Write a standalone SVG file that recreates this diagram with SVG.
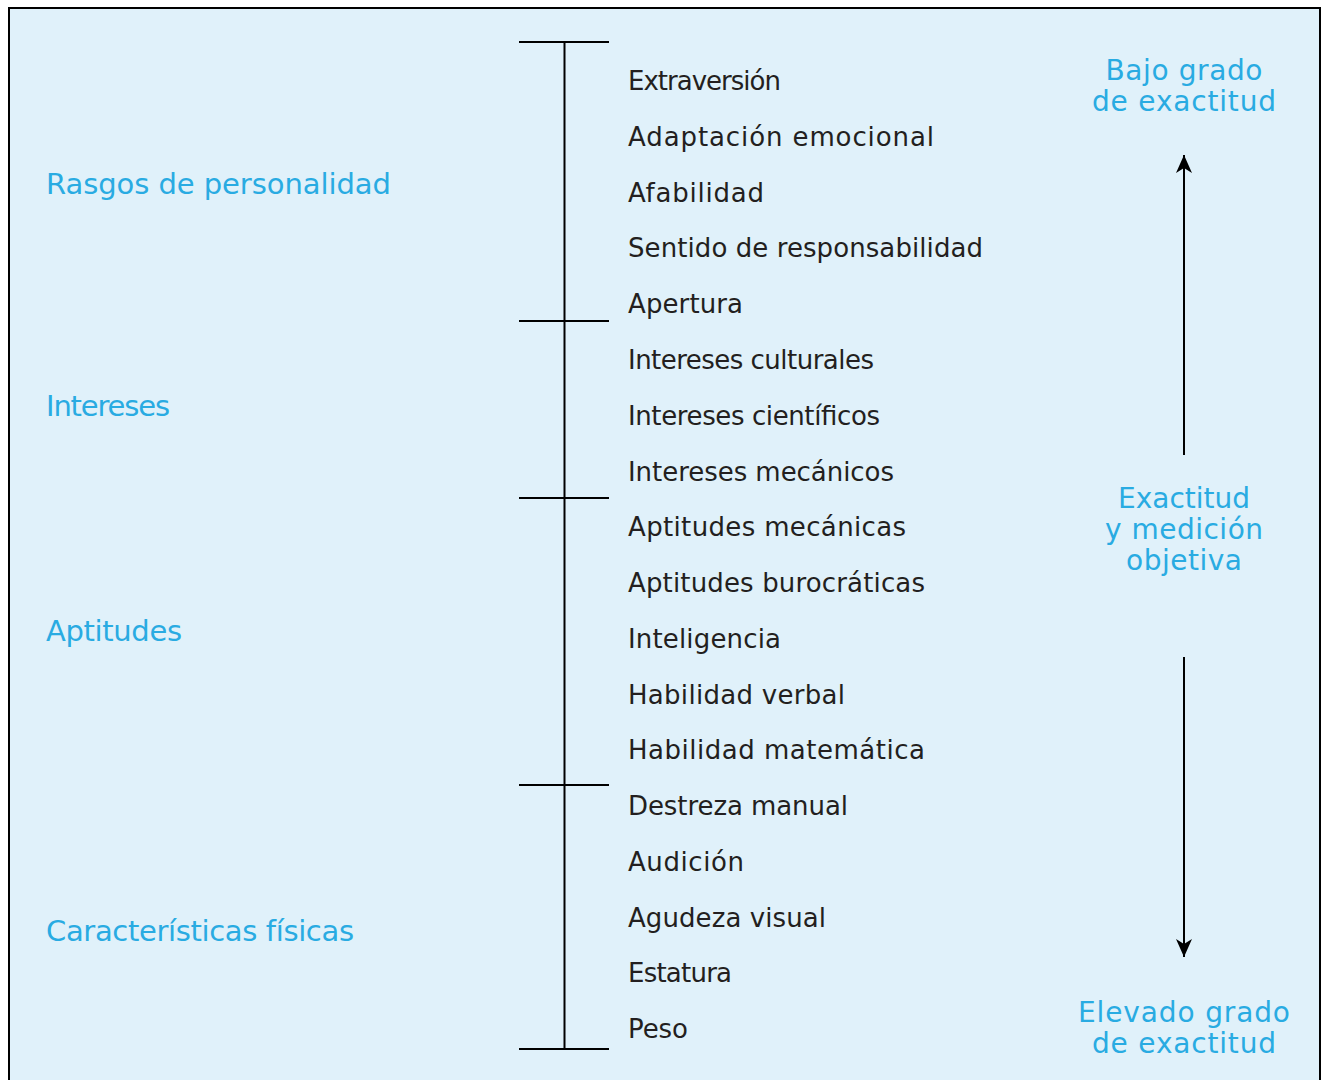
<svg xmlns="http://www.w3.org/2000/svg" width="1321" height="1080" viewBox="0 0 1321 1080">
  <defs>
    <style>
      .item { font-family: "DejaVu Sans", "Liberation Sans", sans-serif; font-size: 26px; fill: #231f20; }
      .cat { font-family: "DejaVu Sans", "Liberation Sans", sans-serif; font-size: 29px; fill: #29abe2; }
      .scale { font-family: "DejaVu Sans", "Liberation Sans", sans-serif; font-size: 28px; fill: #29abe2; text-anchor: middle; }
      .rule { stroke: #000; stroke-width: 2; fill: none; }
    </style>
    <marker id="head" markerUnits="userSpaceOnUse" markerWidth="20" markerHeight="16" refX="18" refY="8" orient="auto">
      <path d="M0,0 L18,8 L0,16 L5,8 Z" fill="#000"/>
    </marker>
  </defs>

  <rect width="1321" height="1080" fill="#fff"/>
  <rect x="9" y="8" width="1311" height="1090" fill="#e0f1fa" stroke="#000" stroke-width="2"/>

  <!-- category labels -->
  <g id="cat-personalidad"><text class="cat" x="46" y="194" textLength="345" lengthAdjust="spacing">Rasgos de personalidad</text></g>
  <g id="cat-intereses"><text class="cat" x="46" y="416" textLength="124" lengthAdjust="spacing">Intereses</text></g>
  <g id="cat-aptitudes"><text class="cat" x="46" y="641" textLength="136" lengthAdjust="spacing">Aptitudes</text></g>
  <g id="cat-fisicas"><text class="cat" x="46" y="941" textLength="308" lengthAdjust="spacing">Características físicas</text></g>

  <!-- scale: spine and group separators -->
  <g id="connectors">
    <line class="rule" x1="564.5" y1="42" x2="564.5" y2="1050"/>
    <line class="rule" x1="519" y1="42" x2="609" y2="42"/>
    <line class="rule" x1="519" y1="321" x2="609" y2="321"/>
    <line class="rule" x1="519" y1="498" x2="609" y2="498"/>
    <line class="rule" x1="519" y1="785" x2="609" y2="785"/>
    <line class="rule" x1="519" y1="1049" x2="609" y2="1049"/>
    <line class="rule" x1="1184" y1="455" x2="1184" y2="155" marker-end="url(#head)"/>
    <line class="rule" x1="1184" y1="657" x2="1184" y2="957" marker-end="url(#head)"/>
  </g>

  <!-- measured attributes -->
  <g id="items">
    <g id="i01"><text class="item" x="628" y="90" textLength="153" lengthAdjust="spacing">Extraversión</text></g>
    <g id="i02"><text class="item" x="628" y="146" textLength="306" lengthAdjust="spacing">Adaptación emocional</text></g>
    <g id="i03"><text class="item" x="628" y="202" textLength="136" lengthAdjust="spacing">Afabilidad</text></g>
    <g id="i04"><text class="item" x="628" y="257" textLength="355" lengthAdjust="spacing">Sentido de responsabilidad</text></g>
    <g id="i05"><text class="item" x="628" y="313" textLength="115" lengthAdjust="spacing">Apertura</text></g>
    <g id="i06"><text class="item" x="628" y="369" textLength="246" lengthAdjust="spacing">Intereses culturales</text></g>
    <g id="i07"><text class="item" x="628" y="425" textLength="252" lengthAdjust="spacing">Intereses científicos</text></g>
    <g id="i08"><text class="item" x="628" y="481" textLength="266" lengthAdjust="spacing">Intereses mecánicos</text></g>
    <g id="i09"><text class="item" x="628" y="536" textLength="278" lengthAdjust="spacing">Aptitudes mecánicas</text></g>
    <g id="i10"><text class="item" x="628" y="592" textLength="297" lengthAdjust="spacing">Aptitudes burocráticas</text></g>
    <g id="i11"><text class="item" x="628" y="648" textLength="153" lengthAdjust="spacing">Inteligencia</text></g>
    <g id="i12"><text class="item" x="628" y="704" textLength="217" lengthAdjust="spacing">Habilidad verbal</text></g>
    <g id="i13"><text class="item" x="628" y="759" textLength="297" lengthAdjust="spacing">Habilidad matemática</text></g>
    <g id="i14"><text class="item" x="628" y="815" textLength="220" lengthAdjust="spacing">Destreza manual</text></g>
    <g id="i15"><text class="item" x="628" y="871" textLength="116" lengthAdjust="spacing">Audición</text></g>
    <g id="i16"><text class="item" x="628" y="927" textLength="198" lengthAdjust="spacing">Agudeza visual</text></g>
    <g id="i17"><text class="item" x="628" y="982" textLength="104" lengthAdjust="spacing">Estatura</text></g>
    <g id="i18"><text class="item" x="628" y="1038" textLength="60" lengthAdjust="spacing">Peso</text></g>
  </g>

  <!-- accuracy scale labels -->
  <g id="scale-top">
    <text class="scale" x="1184" y="80" textLength="157" lengthAdjust="spacing">Bajo grado</text>
    <text class="scale" x="1184" y="111" textLength="184" lengthAdjust="spacing">de exactitud</text>
  </g>
  <g id="scale-mid">
    <text class="scale" x="1184" y="508" textLength="132" lengthAdjust="spacing">Exactitud</text>
    <text class="scale" x="1184" y="539" textLength="158" lengthAdjust="spacing">y medición</text>
    <text class="scale" x="1184" y="570" textLength="116" lengthAdjust="spacing">objetiva</text>
  </g>
  <g id="scale-bottom">
    <text class="scale" x="1184" y="1022" textLength="212" lengthAdjust="spacing">Elevado grado</text>
    <text class="scale" x="1184" y="1053" textLength="184" lengthAdjust="spacing">de exactitud</text>
  </g>
</svg>
